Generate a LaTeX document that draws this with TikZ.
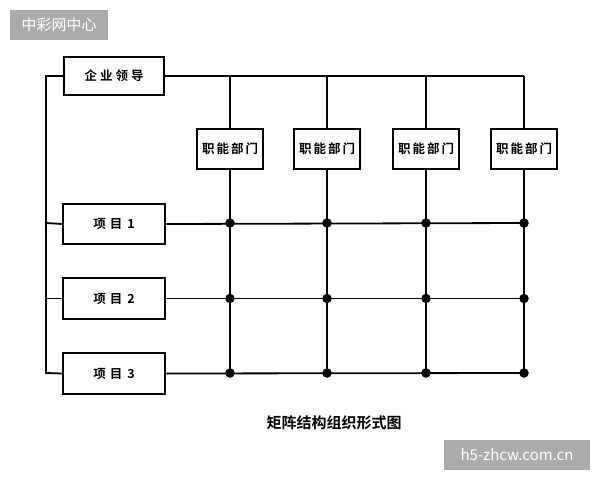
\documentclass[tikz,border=0pt]{standalone}
\usepackage{fontspec}
\newfontfamily\cjk{Noto Sans CJK SC}
\newfontfamily\cjkb{Noto Sans CJK SC Bold}
\begin{document}
\begin{tikzpicture}[x=1pt,y=-1pt,
  box/.style={draw,line width=1.8pt,inner sep=0pt,font=\cjkb\fontsize{12.5}{12.5}\selectfont},
  ln/.style={line width=1.8pt},
  dot/.style={circle,fill=black,inner sep=0pt,minimum size=9.5pt},
  wm/.style={fill=black!33,text=white,inner sep=0pt,font=\cjk\fontsize{15}{15}\selectfont}]
\useasboundingbox (0,0) rectangle (600,480);
% watermarks
\node[wm,minimum width=98pt,minimum height=30pt] (wm1) at (59,25) {中彩网中心};
\node[wm,minimum width=146pt,minimum height=30pt] (wm2) at (517,455) {h5-zhcw.com.cn};
% boxes
\node[box,minimum width=100pt,minimum height=38pt] (lead) at (114,76) {企\hspace{3pt}业\hspace{3pt}领\hspace{3pt}导};
\foreach \i/\x in {1/230,2/327,3/426,4/524}{
  \node[box,minimum width=66pt,minimum height=40pt] (f\i) at (\x,149) {职\hspace{2pt}能\hspace{2pt}部\hspace{2pt}门};
}
\node[box,minimum width=102pt,minimum height=40pt] (p1) at (114,224) {项\hspace{4pt}目\hspace{5pt}1};
\node[box,minimum width=102pt,minimum height=41pt] (p2) at (114,298.5) {项\hspace{4pt}目\hspace{5pt}2};
\node[box,minimum width=102pt,minimum height=41pt] (p3) at (114,373.5) {项\hspace{4pt}目\hspace{5pt}3};
% coordinates
\coordinate (bt) at (46,76);
\coordinate (bb) at (46,373);
\foreach \i/\x in {1/230,2/327,3/426,4/524}{
  \coordinate (t\i) at (\x,76);
  \node[dot] (d1\i) at (\x,223) {};
  \node[dot] (d2\i) at (\x,298.5) {};
  \node[dot] (d3\i) at (\x,373) {};
}
% lines
\draw[ln] (lead.west) -- (bt) -- (bb) -- (p3.west);
\draw[ln] (p1.west) -- (46,223);
\draw[ln] (p2.west) -- (46,298.5);
\draw[ln] (lead.east) -- (t4);
\foreach \i in {1,2,3,4}{
  \draw[ln] (t\i) -- (f\i.north);
  \draw[ln] (f\i.south) -- (d3\i.center);
}
\draw[ln] (p1.east) -- (d14.center);
\draw[ln] (p2.east) -- (d24.center);
\draw[ln] (p3.east) -- (d34.center);
% caption
\node[font=\cjkb\fontsize{15}{15}\selectfont,inner sep=0pt] (cap) at (334,423) {矩阵结构组织形式图};
\end{tikzpicture}
\end{document}
